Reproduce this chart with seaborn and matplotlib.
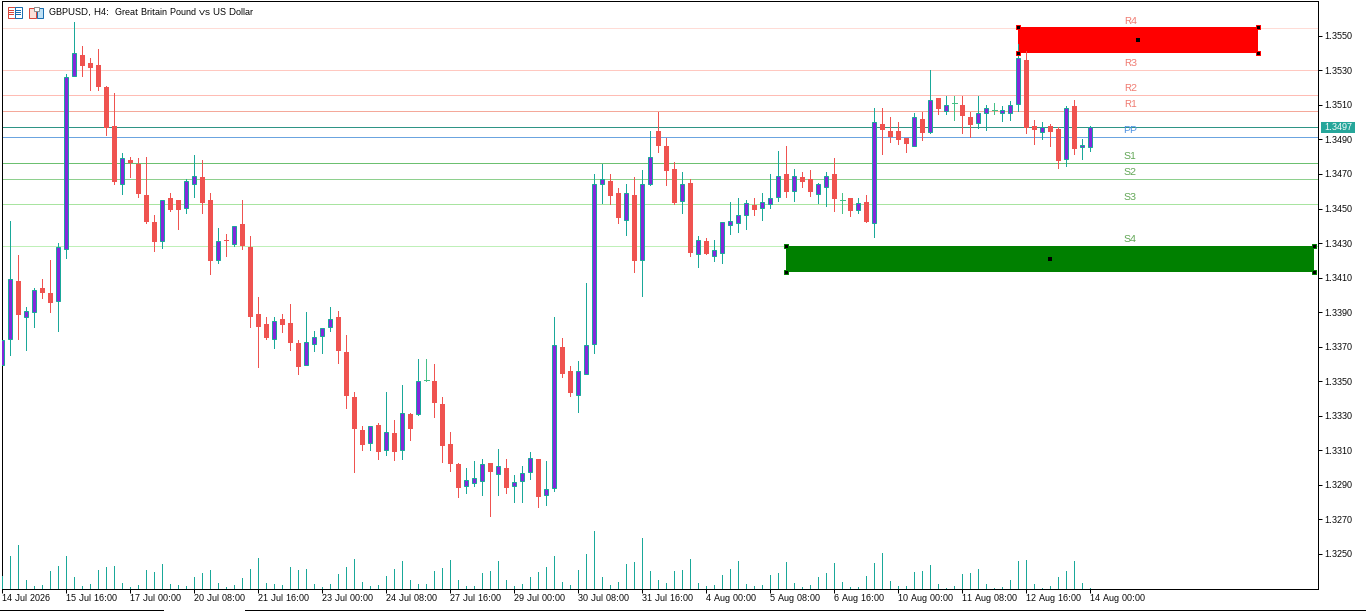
import numpy as np
import pandas as pd
import matplotlib
matplotlib.use('Agg')
import matplotlib.pyplot as plt
from matplotlib.patches import Rectangle
from matplotlib.lines import Line2D
import seaborn as sns

# candles, in pips above 1.3000
open_pips = [
    359.5,374.7,408.1,387.4,389.8,404.0,401.2,396.7,426.8,526.8,
    539.0,534.3,533.2,520.4,497.8,464.3,478.2,476.0,457.9,442.3,
    431.3,456.2,455.0,450.4,464.3,468.3,455.0,420.3,431.8,429.5,
    441.1,427.8,389.0,383.2,374.5,386.1,383.8,372.2,359.5,371.6,
    376.3,381.5,387.3,367.0,340.9,321.8,314.3,324.7,310.2,320.1,
    310.2,331.1,331.1,350.5,350.2,336.9,313.7,302.2,289.4,291.1,
    292.3,302.7,296.3,299.8,289.4,292.3,297.5,305.0,284.2,288.2,
    369.9,356.0,342.1,354.3,371.6,464.3,466.0,459.0,443.4,457.9,
    420.3,464.3,495.0,486.3,473.0,454.4,464.9,423.7,431.3,422.6,
    424.3,440.5,441.7,446.3,452.1,450.4,452.7,456.7,470.1,460.2,
    468.3,467.1,458.5,462.5,470.1,454.8,456.2,449.2,453.8,441.9,
    499.0,495.0,495.0,490.9,486.3,501.9,494.4,514.0,506.5,511.0,
    510.0,503.1,499.6,505.4,506.9,505.4,505.4,510.6,536.1,497.8,
    494.4,497.8,496.1,478.7,509.4,485.7,485.7]
close_pips = [
    373.9,409.1,388.4,390.7,402.9,401.2,395.4,427.8,526.2,540.1,
    532.6,531.4,520.4,496.7,465.4,479.3,476.4,458.5,442.3,430.7,
    455.0,449.2,449.2,466.0,468.9,453.3,419.7,431.3,430.9,439.9,
    428.4,387.3,381.5,375.1,385.0,382.6,372.2,358.3,372.8,375.7,
    380.9,386.1,367.6,341.5,322.4,313.1,324.1,309.1,320.7,309.1,
    331.7,322.4,350.2,350.5,337.5,312.6,302.2,288.2,292.9,294.0,
    302.2,297.5,301.0,288.2,291.7,296.9,305.6,283.0,287.7,371.0,
    354.3,343.3,356.0,371.0,464.3,467.1,457.3,444.6,459.0,419.7,
    464.3,479.9,486.3,471.8,453.3,464.3,424.3,431.8,423.7,426.1,
    442.3,442.8,446.3,453.3,449.2,453.8,456.2,468.9,459.6,468.9,
    465.4,459.6,464.3,468.9,455.6,454.8,448.6,453.3,442.3,500.2,
    495.5,491.5,489.7,487.4,503.1,493.8,512.9,507.7,510.0,511.0,
    503.6,498.4,505.4,508.3,506.9,507.1,510.0,537.2,496.7,495.5,
    497.2,494.4,477.6,508.3,484.5,486.8,497.2]
high_pips = [
    373.9,442.8,423.2,393.0,404.0,409.3,420.3,430.1,528.0,558.1,
    544.2,537.2,542.4,521.0,517.0,482.2,479.9,479.3,479.9,446.3,
    455.0,459.0,455.0,467.1,481.1,478.2,459.0,438.8,435.3,439.9,
    455.0,434.2,398.8,387.3,387.3,389.0,394.8,373.9,390.2,379.2,
    380.9,393.0,390.7,376.8,343.8,324.1,324.1,325.9,343.8,327.6,
    347.9,331.7,362.9,362.9,360.0,340.9,320.7,302.7,299.8,303.9,
    305.0,302.7,310.8,305.0,295.8,301.0,309.1,305.0,303.9,387.3,
    375.1,358.9,361.8,406.9,470.1,475.8,470.1,462.0,464.3,468.3,
    472.4,495.0,505.9,490.9,477.0,471.2,467.1,434.2,433.0,431.8,
    442.3,453.8,456.2,455.0,456.2,459.0,470.1,483.4,486.3,473.0,
    471.2,472.4,464.9,471.2,479.3,459.0,456.2,456.2,457.9,508.3,
    508.3,503.1,500.2,490.9,505.4,505.9,530.3,514.0,515.2,515.2,
    515.2,505.9,515.2,510.0,511.2,509.4,512.3,545.3,541.3,501.3,
    500.2,499.0,497.2,509.4,512.9,490.3,497.8]
low_pips = [
    359.5,365.3,374.5,367.8,381.5,397.9,390.2,379.2,421.4,526.8,
    526.8,518.7,518.7,492.6,464.3,458.5,468.3,456.7,441.7,425.5,
    427.2,448.6,438.2,447.5,456.7,447.5,412.2,418.5,422.6,428.4,
    426.6,381.5,358.3,374.5,369.3,378.6,368.1,354.3,359.5,367.6,
    366.4,379.2,360.6,334.6,297.5,310.2,310.2,305.0,307.4,304.5,
    305.0,316.0,330.5,350.2,329.4,303.3,298.1,283.0,285.4,289.4,
    284.2,272.0,284.2,285.4,280.1,280.1,293.5,277.2,278.4,286.5,
    352.5,341.5,332.3,354.3,366.4,453.3,452.7,441.7,434.7,413.3,
    399.4,463.7,482.8,463.7,452.7,447.5,422.6,416.2,423.7,419.7,
    418.5,435.3,436.5,438.2,446.3,443.4,450.4,454.4,456.7,454.4,
    462.5,457.3,453.3,451.5,448.6,447.5,445.7,447.5,442.3,433.6,
    481.6,488.6,487.4,482.8,486.3,489.7,493.8,504.8,504.8,501.3,
    493.8,491.5,496.7,495.5,504.8,500.7,501.3,506.5,493.8,487.4,
    490.3,486.3,473.5,474.7,481.6,478.7,483.4]
tick_volume = [
    40,100,133,28,10,13,55,70,100,37,
    10,16,58,67,70,19,7,13,58,52,
    76,16,13,10,37,49,58,19,7,13,
    34,61,94,19,16,13,67,58,61,16,
    7,16,46,67,91,22,10,13,40,61,
    85,28,16,16,55,64,88,28,10,10,
    49,55,85,28,10,16,37,52,67,100,
    22,13,58,106,175,37,13,22,76,82,
    154,55,28,19,55,58,91,19,10,13,
    43,61,85,16,10,13,43,49,82,19,
    7,13,37,49,79,22,7,7,40,79,
    109,25,10,10,52,55,73,16,4,10,
    46,49,61,16,4,7,28,85,88,16,
    4,10,37,55,85,19,4]

time_labels = ['14 Jul 2026', '15 Jul 16:00', '17 Jul 00:00', '20 Jul 08:00', '21 Jul 16:00',
               '23 Jul 00:00', '24 Jul 08:00', '27 Jul 16:00', '29 Jul 00:00', '30 Jul 08:00',
               '31 Jul 16:00', '4 Aug 00:00', '5 Aug 08:00', '6 Aug 16:00', '10 Aug 00:00',
               '11 Aug 08:00', '12 Aug 16:00', '14 Aug 00:00']
price_ticks = [1.3250, 1.3270, 1.3290, 1.3310, 1.3330, 1.3350, 1.3370, 1.3390,
               1.3410, 1.3430, 1.3450, 1.3470, 1.3490, 1.3510, 1.3530, 1.3550]

level_names = ['R4', 'R3', 'R2', 'R1', 'PP', 'S1', 'S2', 'S3', 'S4']
level_prices = [1.35544, 1.35301, 1.35156, 1.35063, 1.34913, 1.34762, 1.34670, 1.34525, 1.34282]
last_price = 1.3497

# zones: first bar, last bar, top, bottom
supply_zone = (127, 157, 1.3555, 1.3540)
demand_zone = (98, 164, 1.34285, 1.34133)

W, H = 1366, 611
BAR_PX = 8
PX_PRICE = 0.0000579   # price per screen pixel

TEAL = '#1aa899'
RED = '#ef5350'
PURPLE = '#8228dc'
DOJI = '#45c087'
LEVEL_COLORS = ['#ffdcd6', '#ffc8c0', '#ffbcb4', '#f4a89a', '#6ba4e0',
                '#6cc070', '#8ed08e', '#a8e4a0', '#bff0b8']
LABEL_COLORS = ['#f07a70'] * 4 + ['#4a90e2'] + ['#5fa553'] * 4

sns.set_theme(style='white')
plt.rcParams['font.family'] = ['Liberation Sans', 'DejaVu Sans']
plt.rcParams['text.hinting'] = 'native'
plt.rcParams['text.hinting_factor'] = 1
FONT = 6.5


def px_box(fig, x0, y0, x1, y1, **kw):
    """rectangle given in screen pixels, for the header icons and the price tag"""
    kw.setdefault('linewidth', 0)
    fig.add_artist(Rectangle((x0 / W, 1 - y1 / H), (x1 - x0) / W, (y1 - y0) / H,
                             transform=fig.transFigure, **kw))


def draw_zone(ax, zone, color):
    x0, x1, top, bottom = zone
    ax.add_patch(Rectangle((x0, bottom), x1 - x0, top - bottom, facecolor=color,
                           edgecolor='none', zorder=1.8))
    ax.scatter([x0, x0, x1, x1], [top, bottom, top, bottom], marker='s', s=8.3,
               facecolor='black', edgecolor=color, linewidth=0.72, zorder=5)
    ax.scatter([(x0 + x1) / 2], [(top + bottom) / 2], marker='s', s=4.7,
               facecolor='black', linewidth=0, zorder=5)


def draw_candles(ax, df):
    doji = df[df['open'] == df['close']]
    up = df[df['close'] > df['open']]
    down = df[df['close'] < df['open']]

    ax.vlines(up['bar'], up['low'], up['high'], color=TEAL, lw=0.72, antialiased=False, zorder=3)
    ax.vlines(down['bar'], down['low'], down['high'], color=RED, lw=0.72, antialiased=False, zorder=3)
    ax.vlines(doji['bar'], doji['low'], doji['high'], color=DOJI, lw=0.72, antialiased=False, zorder=3)
    ax.hlines(doji['close'], doji['bar'] - 2.5 / BAR_PX, doji['bar'] + 2.5 / BAR_PX,
              color=DOJI, lw=0.72, antialiased=False, zorder=3)

    ax.bar(up['bar'], up['close'] - up['open'], bottom=up['open'], width=4 / BAR_PX,
           facecolor=PURPLE, edgecolor=TEAL, linewidth=0.72, zorder=4)
    ax.bar(down['bar'], down['open'] - down['close'], bottom=down['close'], width=5 / BAR_PX,
           facecolor=RED, edgecolor='none', linewidth=0, zorder=4)


def main():
    bars = np.arange(len(open_pips))
    df = pd.DataFrame({
        'bar': bars,
        'open': 1.3 + np.array(open_pips) / 1e4,
        'high': 1.3 + np.array(high_pips) / 1e4,
        'low': 1.3 + np.array(low_pips) / 1e4,
        'close': 1.3 + np.array(close_pips) / 1e4,
        'volume': tick_volume,
    })

    fig = plt.figure(figsize=(W / 100, H / 100), dpi=100, facecolor='white')
    # plot frame sits on pixel columns 2 and 1318, rows 1 and 589
    rect = [2.3 / W, (H - 589.3) / H, 1316 / W, 588 / H]
    ax = fig.add_axes(rect)
    ax_vol = fig.add_axes(rect, zorder=2)
    ax_vol.patch.set_visible(False)

    # volumes along the bottom of the chart
    sns.barplot(data=df, x='bar', y='volume', native_scale=True, width=1 / BAR_PX,
                color=TEAL, saturation=1, linewidth=0, ax=ax_vol)
    ax_vol.set_xlim(0, 164.5)
    ax_vol.set_ylim(0, 588 * 3)
    ax_vol.set_axis_off()

    # zones, pivot levels, last price
    draw_zone(ax, supply_zone, '#ff0000')
    draw_zone(ax, demand_zone, '#008000')
    for name, price, line_c, text_c in zip(level_names, level_prices, LEVEL_COLORS, LABEL_COLORS):
        ax.axhline(price, color=line_c, lw=0.72, antialiased=False, zorder=1.5)
        ax.annotate(name, (141, price), xytext=(0, 6.3 * 0.72), textcoords='offset points',
                    ha='center', va='center', fontsize=7.2, color=text_c, zorder=2)
    ax.axhline(last_price, color='#2e9486', lw=0.72, antialiased=False, zorder=1.6)

    draw_candles(ax, df)

    ax.set_xlim(0, 164.5)
    ax.set_ylim(1.3550 - (589.3 - 35.8) * PX_PRICE, 1.3550 + (35.8 - 1.3) * PX_PRICE)

    ax.set_xticks(bars[::8])
    ax.set_xticklabels(time_labels, ha='left', fontsize=FONT, color='black')
    ax.yaxis.tick_right()
    ax.set_yticks(price_ticks)
    ax.set_yticklabels([f'{p:.4f}' for p in price_ticks], fontsize=FONT, color='black')
    ax.tick_params(axis='x', direction='out', length=2.9, width=0.72, pad=0.5, color='black',
                   bottom=True)
    ax.tick_params(axis='y', direction='out', length=2.9, width=0.72, pad=1.5, color='black',
                   right=True, left=False)
    for spine in ax.spines.values():
        spine.set_visible(True)
        spine.set_color('black')
        spine.set_linewidth(0.72)

    # last price tag on the axis
    px_box(fig, 1321, 122, 1355, 133, facecolor='#26a69a', zorder=5)
    fig.text(1338 / W, 1 - 127.5 / H, f'{last_price:.4f}', color='white', ha='center', va='center',
             fontsize=FONT, zorder=6)

    # header: two small toolbar icons and the symbol text
    fig.text(49 / W, 1 - 12.5 / H, 'GBPUSD, H4:  Great Britain Pound vs US Dollar', color='black',
             ha='left', va='center', fontsize=6.8)
    px_box(fig, 7.5, 7.5, 14.5, 17.5, facecolor='white', edgecolor='#d8483c', linewidth=0.72, zorder=5)
    px_box(fig, 14.5, 7.5, 21.5, 17.5, facecolor='white', edgecolor='#1c6fb0', linewidth=0.72, zorder=5)
    for y in (10, 12, 14):
        px_box(fig, 9, y, 14, y + 1, facecolor='#d8483c', zorder=6)
        px_box(fig, 16, y, 21, y + 1, facecolor='#1c6fb0', zorder=6)
    px_box(fig, 28.5, 8.5, 35.5, 17.5, facecolor='#fbe0d8', edgecolor='#d8483c', linewidth=0.72, zorder=5)
    px_box(fig, 36.5, 8.5, 42.5, 17.5, facecolor='#bfe0f4', edgecolor='#1c6fb0', linewidth=0.72, zorder=5)
    px_box(fig, 33.5, 7.5, 38.5, 10.5, facecolor='white', edgecolor='#909090', linewidth=0.72, zorder=6)

    # window edge under the chart
    for x0, x1 in ((0, 163), (245, W)):
        fig.add_artist(Line2D([x0 / W, x1 / W], [1 - 610.3 / H] * 2, color='black', lw=0.72,
                              antialiased=False, transform=fig.transFigure))

    fig.savefig('out.png', dpi=100)
    plt.close(fig)


if __name__ == "__main__":
    main()
